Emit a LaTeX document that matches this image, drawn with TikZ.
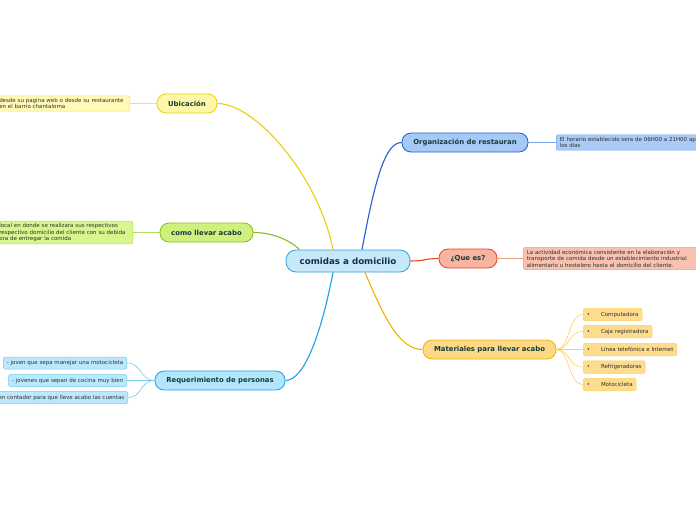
\documentclass[tikz,border=0pt]{standalone}
\usepackage{fontspec}
\setmainfont{DejaVu Sans}
\usetikzlibrary{calc}

\definecolor{mainF}{HTML}{C6E9FA}\definecolor{mainD}{HTML}{3B9EDC}
\definecolor{yelF}{HTML}{FFF7A8}\definecolor{yelD}{HTML}{E8CF10}\definecolor{yelL}{HTML}{FFFAB8}\definecolor{yelLD}{HTML}{F3E070}
\definecolor{grnF}{HTML}{D0F07E}\definecolor{grnD}{HTML}{86BE1E}\definecolor{grnL}{HTML}{D8F68E}\definecolor{grnLD}{HTML}{B2DC5A}
\definecolor{skyF}{HTML}{B3E5FC}\definecolor{skyD}{HTML}{1BA1E2}\definecolor{skyL}{HTML}{BBE8FC}\definecolor{skyLD}{HTML}{70CAF0}
\definecolor{bluF}{HTML}{A7C9F7}\definecolor{bluD}{HTML}{1F5FCF}\definecolor{bluL}{HTML}{AACAF8}\definecolor{bluLD}{HTML}{7BA5EC}
\definecolor{redF}{HTML}{F9B3A1}\definecolor{redD}{HTML}{E8481C}\definecolor{redL}{HTML}{F9C1AF}\definecolor{redLD}{HTML}{F29C82}
\definecolor{orgF}{HTML}{FDD985}\definecolor{orgD}{HTML}{F2B100}\definecolor{orgL}{HTML}{FEDC8E}\definecolor{orgLD}{HTML}{FBD162}
\definecolor{titletext}{HTML}{143C3A}\definecolor{maintext}{HTML}{1B2A52}\definecolor{leaftext}{HTML}{2E2E2E}

\tikzset{
  topic/.style={draw, rounded corners=9pt, line width=0.8pt, text=titletext,
    font=\bfseries\fontsize{6.9}{7.5}\selectfont, minimum height=19pt, inner sep=2pt},
  leaf/.style={draw, rounded corners=2pt, line width=0.5pt, text=leaftext,
    font=\fontsize{5.5}{6.5}\selectfont, align=left, inner xsep=3.5pt, inner ysep=2.3pt},
  bullet/.style={leaf, fill=orgL, draw=orgLD, anchor=west, minimum height=12.5pt},
  thick link/.style={line width=1.1pt},
  thin link/.style={line width=0.6pt}
}

\begin{document}
\begin{tikzpicture}[x=1pt,y=-1pt]
			%%%%% START %%%%%
			\clip (0,0) rectangle (696,520);
			\fill[white] (0,0) rectangle (696,520);

			% central topic
			\node[topic, fill=mainF, draw=mainD, text=maintext, minimum width=124pt, minimum height=22pt,
			  rounded corners=10pt, font=\bfseries\fontsize{8.7}{9.5}\selectfont] (main) at (348,261) {comidas a domicilio};

			% main branches
			\node[topic, fill=yelF, draw=yelD, minimum width=60pt] (ubic) at (187,103.5) {Ubicación};
			\node[topic, fill=grnF, draw=grnD, minimum width=93pt] (como) at (206.5,232.5) {como llevar acabo};
			\node[topic, fill=skyF, draw=skyD, minimum width=130pt] (reque) at (220,380.5) {Requerimiento de personas};
			\node[topic, fill=bluF, draw=bluD, minimum width=126pt] (orga) at (465,142.5) {Organización de restauran};
			\node[topic, fill=redF, draw=redD, minimum width=58pt] (quees) at (468,258.5) {¿Que es?};
			\node[topic, fill=orgF, draw=orgD, minimum width=133pt] (mater) at (489.5,349.5) {Materiales para llevar acabo};

			% leaves left
			\node[leaf, fill=yelL, draw=yelLD, anchor=east, text width=127pt] (ubicleaf) at (130,103.5)
			  {desde su pagina web o desde su restaurante\\en el barrio chantaloma};
			\node[leaf, fill=grnL, draw=grnLD, anchor=east, text width=130pt] (comoleaf) at (133,232.5)
			  {local en donde se realizara sus respectivos\\respectivo domicilio del cliente con su debida\\ora de entregar la comida};
			\node[leaf, fill=skyL, draw=skyLD, anchor=east, minimum height=12pt] (reqa) at (127,363) {- joven que sepa manejar una motocicleta};
			\node[leaf, fill=skyL, draw=skyLD, anchor=east, minimum height=12pt] (reqb) at (127,380.5) {- jovenes que sepan de cocina muy bien};
			\node[leaf, fill=skyL, draw=skyLD, anchor=east, minimum height=12pt] (reqc) at (128,397.5) {en contador para que lleve acabo las cuentas};

			% leaves right
			\node[leaf, fill=bluL, draw=bluLD, anchor=west, text width=160pt] (orgaleaf) at (556,142.5)
			  {El horario establecido sera de 06H00 a 21H00 ap\\los dias};
			\node[leaf, fill=redL, draw=redLD, anchor=west, text width=168pt] (queesleaf) at (523,258.5)
			  {La actividad económica consistente en la elaboración y\\transporte de comida desde un establecimiento industrial\\alimentario u hostelero hasta el domicilio del cliente.};
			\node[bullet] (mata) at (583,314.5) {•\hspace{11pt}Computadora};
			\node[bullet] (matb) at (583,331.5) {•\hspace{11pt}Caja registradora};
			\node[bullet] (matc) at (583,349.5) {•\hspace{11pt}Línea telefónica e Internet};
			\node[bullet] (matd) at (583,367) {•\hspace{11pt}Refrigeradoras};
			\node[bullet] (mate) at (583,384.5) {•\hspace{11pt}Motocicleta};

			% links from central topic
			\draw[thick link, yelD] ($(main.north)+(-15,0)$) .. controls (318,175) and (255,103.5) .. (ubic.east);
			\draw[thick link, grnD] ($(main.north west)+(14,0)$) .. controls (290,240) and (272,232.5) .. (como.east);
			\draw[thick link, skyD] ($(main.south)+(-15,0)$) .. controls (322,330) and (305,380.5) .. (reque.east);
			\draw[thick link, bluD] ($(main.north)+(14,0)$) .. controls (375,180) and (385,142.5) .. (orga.west);
			\draw[thick link, redD] (main.east) .. controls (425,261) and (425,258.5) .. (quees.west);
			\draw[thick link, orgD] ($(main.south)+(17,0)$) .. controls (385,320) and (400,349.5) .. (mater.west);

			% links to leaves
			\draw[thin link, yelLD] (ubic.west) -- (ubicleaf.east);
			\draw[thin link, grnLD] (como.west) -- (comoleaf.east);
			\draw[thin link, bluLD] (orga.east) -- (orgaleaf.west);
			\draw[thin link, redLD] (quees.east) -- (queesleaf.west);
			\foreach \leafname in {reqa,reqb,reqc}
			  \draw[thin link, skyLD] (reque.west) .. controls (140,380.5) and (142,0|-\leafname.east) .. (\leafname.east);
			\foreach \leafname in {mata,matb,matc,matd,mate}
			  \draw[thin link, orgLD] (mater.east) .. controls (570,349.5) and (568,0|-\leafname.west) .. (\leafname.west);
			%%%%% END %%%%%
\end{tikzpicture}
\end{document}
